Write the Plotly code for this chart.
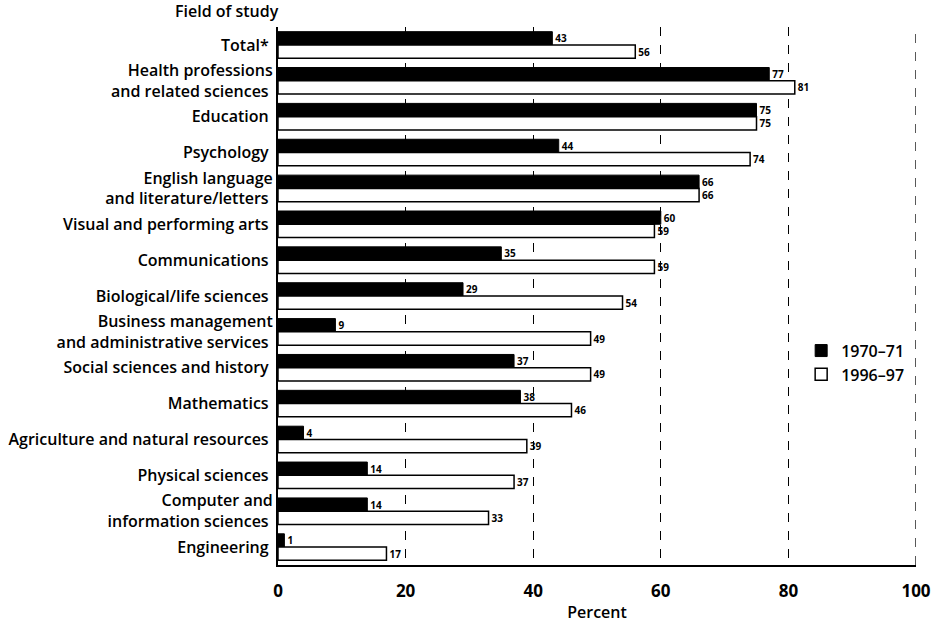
import plotly.graph_objects as go

categories = [
    "Total*",
    "Health professions<br>and related sciences",
    "Education",
    "Psychology",
    "English language<br>and literature/letters",
    "Visual and performing arts",
    "Communications",
    "Biological/life sciences",
    "Business management<br>and administrative services",
    "Social sciences and history",
    "Mathematics",
    "Agriculture and natural resources",
    "Physical sciences",
    "Computer and<br>information sciences",
    "Engineering",
]
values_1970 = [43, 77, 75, 44, 66, 60, 35, 29, 9, 37, 38, 4, 14, 14, 1]
values_1996 = [56, 81, 75, 74, 66, 59, 59, 54, 49, 49, 46, 39, 37, 33, 17]
x_ticks = [0, 20, 40, 60, 80, 100]

FONT = "Open Sans"

fig = go.Figure()
fig.add_trace(go.Bar(
    y=categories, x=values_1970, orientation="h", name="1970–71",
    marker=dict(color="black", line=dict(color="black", width=1)),
    text=[str(v) for v in values_1970], textposition="outside",
    textfont=dict(family=FONT, size=10, color="black", weight=700),
    cliponaxis=False, constraintext="none",
))
fig.add_trace(go.Bar(
    y=categories, x=values_1996, orientation="h", name="1996–97",
    marker=dict(color="white", line=dict(color="black", width=1.5)),
    text=[str(v) for v in values_1996], textposition="outside",
    textfont=dict(family=FONT, size=10, color="black", weight=700),
    cliponaxis=False, constraintext="none",
))

# dashed line at the right end of the scale (grid line at 100)
fig.add_vline(x=100, line=dict(color="black", dash="dash", width=1.3), layer="below")

fig.update_layout(
    width=933, height=623,
    margin=dict(l=278, r=17, t=27, b=58, autoexpand=False),
    paper_bgcolor="white", plot_bgcolor="white",
    barmode="group", bargap=0.26, bargroupgap=0.0,
    font=dict(family=FONT, color="black"),
    showlegend=True,
    legend=dict(
        x=0.82, y=0.43, xanchor="left", yanchor="top",
        bgcolor="rgba(0,0,0,0)", font=dict(family=FONT, size=16, weight=600),
        traceorder="normal", itemwidth=30, tracegroupgap=4,
    ),
    annotations=[dict(
        text="Field of study", xref="paper", yref="paper",
        x=0, y=1, xanchor="right", yanchor="bottom", xshift=3, yshift=3,
        showarrow=False, font=dict(family=FONT, size=16, weight=600),
    )],
)
fig.update_xaxes(
    range=[0, 100], tickvals=x_ticks, ticktext=[str(t) for t in x_ticks],
    showgrid=True, gridcolor="black", griddash="dash", gridwidth=1.3,
    showline=True, linecolor="black", linewidth=2, zeroline=False,
    ticks="", tickfont=dict(family=FONT, size=17, weight=700),
    ticklabelstandoff=10,
    title=dict(text="Percent", font=dict(family=FONT, size=16, weight=600), standoff=5),
    automargin=False,
)
fig.update_yaxes(
    autorange="reversed", showgrid=False, showline=True, linecolor="black",
    linewidth=2, ticks="", tickfont=dict(family=FONT, size=16, weight=600),
    ticksuffix=" ", automargin=False,
)

fig.write_html("out.html", config={"displayModeBar": False},
               post_script="document.body.style.margin='0';")
